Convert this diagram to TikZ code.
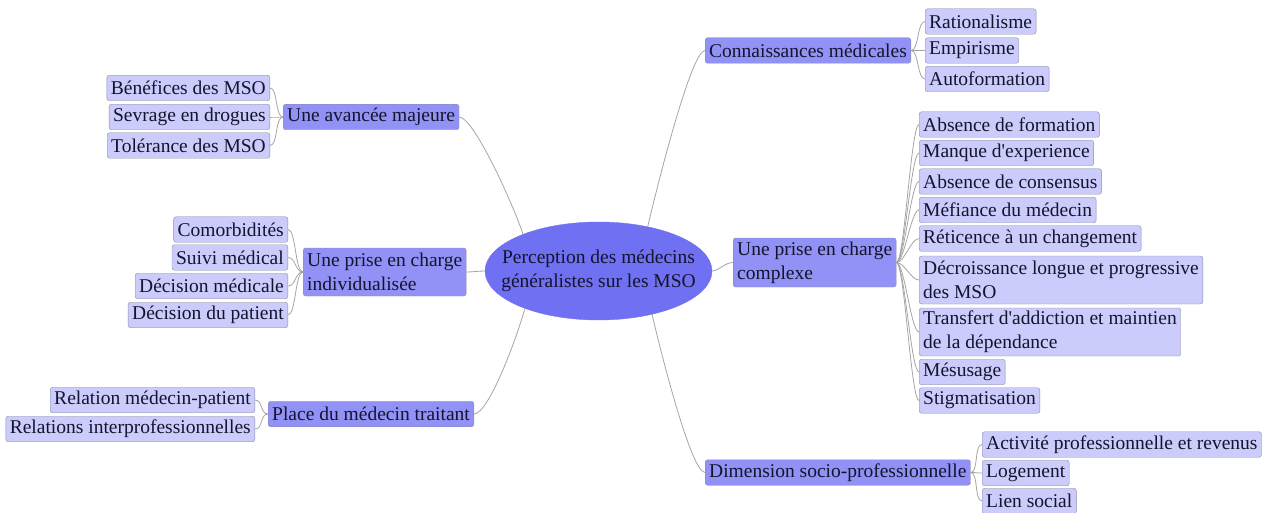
\documentclass[tikz,border=0pt]{standalone}
\usepackage{fontspec}
\setmainfont{LiberationSerif}[Extension=.ttf, UprightFont=*-Regular, BoldFont=*-Bold, Ligatures=TeXOff]
\usetikzlibrary{shapes.geometric}

\definecolor{centrefill}{RGB}{112,112,242}
\definecolor{branchefill}{RGB}{146,146,246}
\definecolor{feuillefill}{RGB}{204,204,252}
\definecolor{bord}{RGB}{140,140,165}
\definecolor{trait}{RGB}{165,165,165}
\definecolor{texte}{RGB}{20,20,45}

\tikzset{
  boite/.style={draw=bord, rounded corners=2.5pt, inner xsep=4pt, inner ysep=2pt,
    minimum height=25.5pt, align=left, text=texte,
    font=\fontsize{19.5}{24}\selectfont},
  branche/.style={boite, fill=branchefill},
  feuille/.style={boite, fill=feuillefill},
  centre/.style={ellipse, fill=centrefill, draw=centrefill, inner xsep=-20pt, inner ysep=-5pt,
    minimum width=227pt, minimum height=98pt, align=center, text=texte,
    font=\fontsize{19.5}{24}\selectfont},
  lien/.style={draw=trait, line width=0.8pt}
}

\begin{document}
\begin{tikzpicture}[x=1pt,y=-1pt]
\useasboundingbox (0,0) rectangle (1266,513);

\node[centre] (c) at (598.5,271) {Perception des médecins\\généralistes sur les MSO};

% gauche
\node[branche, anchor=west] (avancee) at (283,117) {Une avancée majeure};
\node[feuille, anchor=east] (benef) at (270,88) {Bénéfices des MSO};
\node[feuille, anchor=east] (sevrage) at (270,117) {Sevrage en drogues};
\node[feuille, anchor=east] (toler) at (270,145.5) {Tolérance des MSO};

\node[branche, anchor=west, minimum height=48pt] (indiv) at (303,272) {Une prise en charge\\individualisée};
\node[feuille, anchor=east] (comorb) at (288,229.5) {Comorbidités};
\node[feuille, anchor=east] (suivi) at (288,257.5) {Suivi médical};
\node[feuille, anchor=east] (decmed) at (288,286) {Décision médicale};
\node[feuille, anchor=east] (decpat) at (288,315) {Décision du patient};

\node[branche, anchor=west] (place) at (268,414) {Place du médecin traitant};
\node[feuille, anchor=east] (relmp) at (255,400) {Relation médecin-patient};
\node[feuille, anchor=east] (relint) at (255,429) {Relations interprofessionnelles};

% droite
\node[branche, anchor=west] (conn) at (705,50.5) {Connaissances médicales};
\node[feuille, anchor=west] (ratio) at (925,21.5) {Rationalisme};
\node[feuille, anchor=west] (empir) at (925,50.5) {Empirisme};
\node[feuille, anchor=west] (autof) at (925,79) {Autoformation};

\node[branche, anchor=west, minimum height=49pt] (cplx) at (733,262.5) {Une prise en charge\\complexe};
\node[feuille, anchor=west] (absform) at (919,124.5) {Absence de formation};
\node[feuille, anchor=west] (manque) at (919,153) {Manque d'experience};
\node[feuille, anchor=west] (abscons) at (919,181.5) {Absence de consensus};
\node[feuille, anchor=west] (mefiance) at (919,210) {Méfiance du médecin};
\node[feuille, anchor=west] (reticence) at (919,238.5) {Réticence à un changement};
\node[feuille, anchor=west, minimum height=48pt] (decroiss) at (919,280) {Décroissance longue et progressive\\des MSO};
\node[feuille, anchor=west, minimum height=48pt] (transfert) at (919,332) {Transfert d'addiction et maintien\\de la dépendance};
\node[feuille, anchor=west] (mesusage) at (919,372) {Mésusage};
\node[feuille, anchor=west] (stigma) at (919,400.5) {Stigmatisation};

\node[branche, anchor=west] (dim) at (705,472.5) {Dimension socio-professionnelle};
\node[feuille, anchor=west] (activite) at (982,444.5) {Activité professionnelle et revenus};
\node[feuille, anchor=west] (logement) at (982,473) {Logement};
\node[feuille, anchor=west] (lien) at (982,501) {Lien social};

% liens du centre
\draw[lien] (avancee.east) .. controls +(14,0) and +(-12,-35) .. (c.154);
\draw[lien] (indiv.east) .. controls +(6,0) and +(-6,0) .. (c.west);
\draw[lien] (place.east) .. controls +(14,0) and +(-10,35) .. (c.207);
\draw[lien] (conn.west) .. controls +(-14,0) and +(8,-35) .. (c.42);
\draw[lien] (cplx.west) .. controls +(-8,0) and +(6,0) .. (c.east);
\draw[lien] (dim.west) .. controls +(-14,0) and +(8,35) .. (c.-39);

% liens des feuilles
\foreach \f in {benef,sevrage,toler}
  \draw[lien] (avancee.west) .. controls +(-8,0) and +(8,0) .. (\f.east);
\foreach \f in {comorb,suivi,decmed,decpat}
  \draw[lien] (indiv.west) .. controls +(-8,0) and +(8,0) .. (\f.east);
\foreach \f in {relmp,relint}
  \draw[lien] (place.west) .. controls +(-8,0) and +(8,0) .. (\f.east);
\foreach \f in {ratio,empir,autof}
  \draw[lien] (conn.east) .. controls +(8,0) and +(-8,0) .. (\f.west);
\foreach \f in {absform,manque,abscons,mefiance,reticence,decroiss,transfert,mesusage,stigma}
  \draw[lien] (cplx.east) .. controls +(8,0) and +(-8,0) .. (\f.west);
\foreach \f in {activite,logement,lien}
  \draw[lien] (dim.east) .. controls +(8,0) and +(-8,0) .. (\f.west);
\end{tikzpicture}
\end{document}
